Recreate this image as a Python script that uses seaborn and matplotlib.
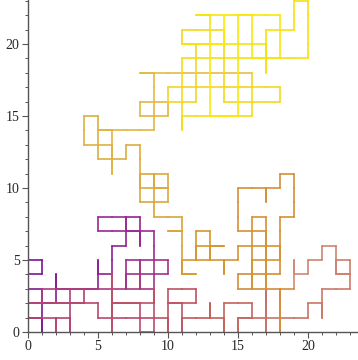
import numpy as np
import pandas as pd
import matplotlib
matplotlib.use("Agg")
import matplotlib.pyplot as plt
from matplotlib.colors import LinearSegmentedColormap
from matplotlib.ticker import MultipleLocator
import seaborn as sns

# Lattice walk, listed as turning points, in walk order
purple_red = [(0,0),(0,5),(1,5),(1,4),(0,4),(0,3),(1,3),(1,0),(1,1),(0,1),(0,2),(2,2),(2,4),(2,3),
              (5,3),(5,5),(5,4),(6,4),(6,6),(7,6),(7,8),(8,8),(8,6),(8,7),(5,7),(5,8),(7,8),(7,7),
              (9,7),(9,5),(7,5),(7,3),(7,4),(10,4),(10,5),(9,5),(9,3),(8,3),(8,5),(8,3),(1,3),(1,2),
              (4,2),(4,3),(3,3),(3,0),(3,1),(2,1),(2,0),(2,1),(0,1),(0,2),(5,2),(5,1),(9,1),(9,0),
              (8,0),(8,2),(6,2),(6,0),(6,4),(6,2),(9,2),(9,3),(9,1),(10,1),(10,0),(10,3),(12,3),
              (12,2),(10,2),(11,2),(11,0),(11,1),(12,1)]
brown_salmon = [(13,1),(13,2),(13,1),(14,1),(14,0),(14,2),(16,2),(16,1),(15,1),(15,0),(15,1),
                (17,1),(17,3),(17,0),(17,1),(20,1),(20,2),(21,2),(21,1),(21,3),(23,3),(23,5),
                (22,5),(22,4),(23,4),(22,4),(22,6),(21,6),(21,5),(20,5),(20,4),(19,4),(19,5),(19,3)]
orange = [(18,3),(18,0),(18,3),(15,3),(15,4),(18,4),(18,8),(19,8),(19,11),(18,11),(18,10),(17,10),
          (17,9),(17,10),(15,10),(15,7),(17,7),(17,3),(17,8),(16,8),(16,3),(16,5),(18,5),(18,6),
          (15,6),(15,5),(14,5),(14,4),(14,5),(13,5),(13,7),(12,7),(12,5),(12,6),(14,6),(13,6),
          (13,5),(11,5),(11,4),(12,4),(11,4)]
gold = [(11,7),(10,7),(11,7),(11,8),(9,8),(9,11),(8,11),(8,9),(10,9),(10,11),(9,11),(9,10),(10,10),
        (8,10),(8,13),(7,13),(7,12),(5,12),(5,15),(4,15),(4,13),(6,13),(6,11),(6,14),(5,14),
        (9,14),(9,15),(8,15),(8,16),(10,16),(10,15),(9,15),(9,18),(8,18),(16,18)]
yellow = [(16,17),(10,17),(10,16),(12,16),(12,20),(11,20),(11,21),(14,21),(14,16),(18,16),
          (18,17),(16,17),(16,15),(11,15),(11,14),(11,19),(20,19),(20,23),(19,23),(19,21),
          (17,21),(17,18),(17,20),(11,20),(13,20),(13,22),(12,22),(18,22),(18,19),(16,19),
          (16,22),(15,22),(15,15),(13,15),(13,20),(14,20),(14,22)]

sections = [purple_red, brown_salmon, orange, gold, yellow]
section_colors = [["#761094", "#9c2a90", "#b8456e", "#c0555e"],
                  ["#c25c58", "#d08a74"],
                  ["#d48a3a", "#d6962e"],
                  ["#d9a038", "#e4bd48"],
                  ["#f0d424", "#faec00"]]

# expand turning points into unit lattice steps
steps = []
bounds = []
cx, cy = purple_red[0]
first = True
for sec in sections:
    start_n = len(steps)
    pts = sec[1:] if first else sec
    first = False
    for (tx, ty) in pts:
        while cx != tx:
            nx = cx + (1 if tx > cx else -1)
            steps.append((cx, cy, nx, cy)); cx = nx
        while cy != ty:
            ny = cy + (1 if ty > cy else -1)
            steps.append((cx, cy, cx, ny)); cy = ny
    bounds.append((start_n, len(steps)))
n = len(steps)

# colormap nodes placed at the section boundaries
nodes = []
for (a, b), cols in zip(bounds, section_colors):
    for k, c in enumerate(cols):
        pos = (a + (b - 1 - a) * k / (len(cols) - 1)) / (n - 1)
        nodes.append((pos, c))
clean = []
last = -1
for p, c in nodes:
    p = max(p, last + 1e-6)
    p = min(p, 1.0)
    clean.append((p, c)); last = p
clean[0] = (0.0, clean[0][1]); clean[-1] = (1.0, clean[-1][1])
cmap = LinearSegmentedColormap.from_list("walk", clean)

rows = []
for i, (x0, y0, x1, y1) in enumerate(steps):
    rows.append(dict(x=x0, y=y0, seg=i, step=i))
    rows.append(dict(x=x1, y=y1, seg=i, step=i))
df = pd.DataFrame(rows)

sns.set_style("white")
fig = plt.figure(figsize=(3.58, 3.60), dpi=100)
ax = fig.add_axes([28/358, 28/360, 1 - 28/358, 1 - 28/360])

sns.lineplot(data=df, x="x", y="y", units="seg", hue="step", estimator=None, sort=False,
             palette=cmap, hue_norm=(0, n - 1), legend=False, linewidth=1.4, alpha=0.85, ax=ax)

ax.set_xlim(0, 23.57)
ax.set_ylim(0, 23.05)
ax.set_xlabel("")
ax.set_ylabel("")
for s in ["top", "right"]:
    ax.spines[s].set_visible(False)
for s in ["left", "bottom"]:
    ax.spines[s].set_color("#555555")
    ax.spines[s].set_linewidth(1.0)
ax.xaxis.set_major_locator(MultipleLocator(5))
ax.yaxis.set_major_locator(MultipleLocator(5))
ax.xaxis.set_minor_locator(MultipleLocator(1))
ax.yaxis.set_minor_locator(MultipleLocator(1))
ax.tick_params(which="major", direction="out", length=4, width=0.8, color="#555555",
               labelsize=10, pad=2, bottom=True, left=True)
ax.tick_params(which="minor", direction="out", length=2, width=0.7, color="#555555",
               bottom=True, left=True)
for lab in ax.get_xticklabels() + ax.get_yticklabels():
    lab.set_fontfamily("Liberation Serif")

fig.savefig("out.png", dpi=100)
